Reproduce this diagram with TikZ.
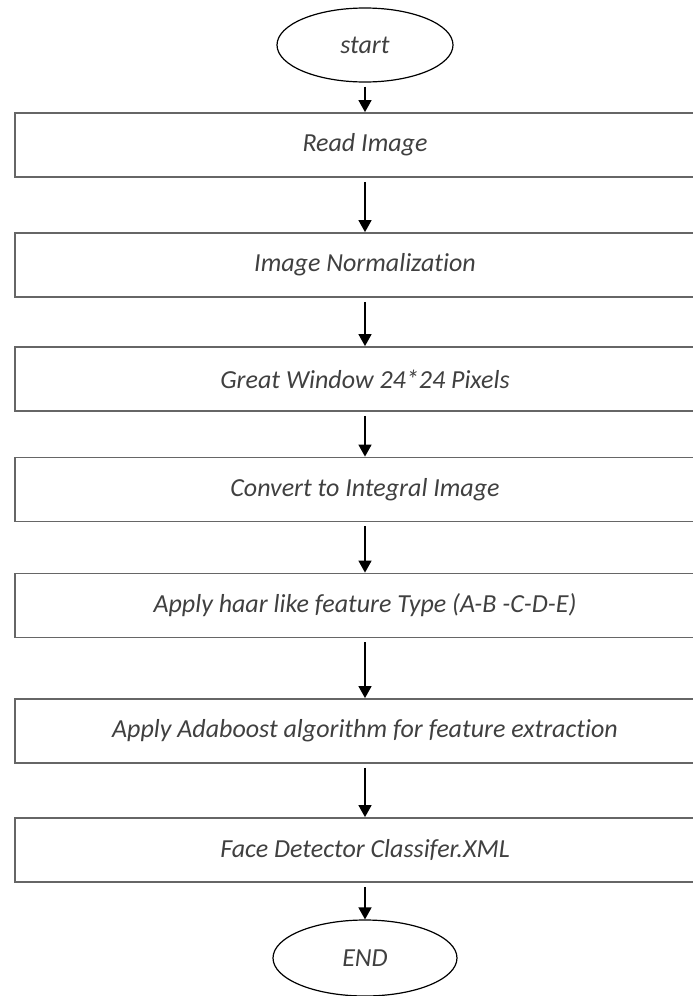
\documentclass[tikz,border=0pt]{standalone}
\usepackage{fontspec}
\setmainfont[Ligatures=NoCommon]{Carlito}
\usetikzlibrary{shapes.geometric,arrows.meta}

\begin{document}
\begin{tikzpicture}[x=1pt,y=-1pt,every node/.style={font=\fontsize{26}{30}\selectfont\itshape,text=black!75},
stepbox/.style={draw=black!60,line width=1.8pt,rectangle,minimum width=700pt,minimum height=64pt},
endbox/.style={draw,line width=1.2pt,ellipse,inner sep=0pt},
flow/.style={-{Triangle[width=13pt,length=12pt]},line width=1.5pt,shorten <=4pt}]
\useasboundingbox (0,0) rectangle (693,996);
\clip (0,0) rectangle (693,996);
\node[endbox,minimum width=176pt,minimum height=74pt] (start) at (365,45) {start};
\node[stepbox] (read) at (365,145) {Read Image};
\node[stepbox] (norm) at (365,265) {Image Normalization};
\node[stepbox] (window) at (365,379) {Great Window 24*24 Pixels};
\node[stepbox] (integral) at (365,489.5) {Convert to Integral Image};
\node[stepbox] (haar) at (365,605.5) {Apply haar like feature Type (A-B -C-D-E)};
\node[stepbox] (ada) at (365,731) {Apply Adaboost algorithm for feature extraction};
\node[stepbox] (xml) at (365,850) {Face Detector Classifer.XML};
\node[endbox,minimum width=184pt,minimum height=76pt] (end) at (365,958) {END};
\draw[flow] (start) -- (read);
\draw[flow] (read) -- (norm);
\draw[flow] (norm) -- (window);
\draw[flow] (window) -- (integral);
\draw[flow] (integral) -- (haar);
\draw[flow] (haar) -- (ada);
\draw[flow] (ada) -- (xml);
\draw[flow] (xml) -- (end);
\end{tikzpicture}
\end{document}
